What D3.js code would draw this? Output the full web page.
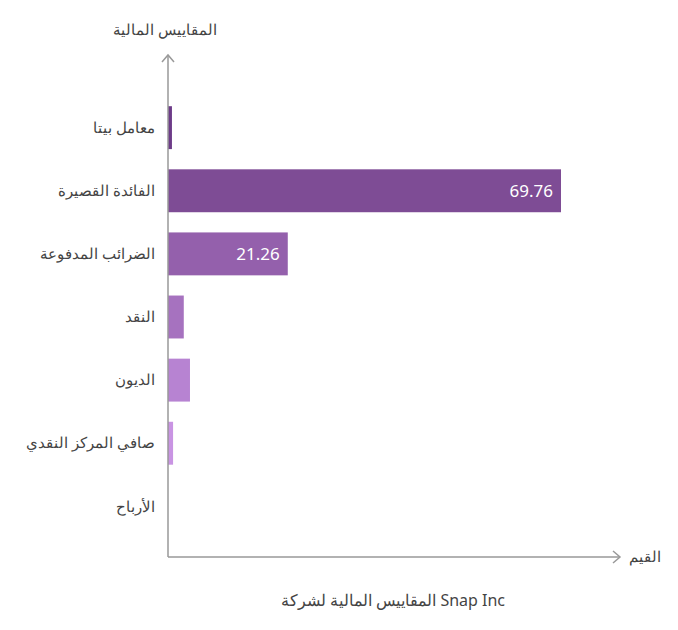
<!DOCTYPE html>
<html><head><meta charset="utf-8">
<script src="https://cdn.jsdelivr.net/npm/d3@7"></script>
<style>body{margin:0;background:#fff}text{font-family:"Noto Sans",Roboto,sans-serif}</style>
</head><body><svg id="c" width="678" height="630"></svg>
<script>
const categories=["معامل بيتا","الفائدة القصيرة","الضرائب المدفوعة","النقد","الديون","صافي المركز النقدي","الأرباح"];
const values=[0.7,69.76,21.26,2.8,3.9,0.9,0];
const colors=["#6d3b88","#7e4c95","#9460ac","#a672bf","#b783d2","#c994e3","#d9a5f0"];
const svg=d3.select("#c");
const x0=168,y0=557;
const x=d3.scaleLinear().domain([0,69.76]).range([x0,561]);
const y=d3.scaleBand().domain(categories).range([86,548]).padding(0.32);
svg.selectAll("rect").data(values).join("rect")
 .attr("x",x0).attr("y",(d,i)=>y(categories[i])).attr("height",y.bandwidth())
 .attr("width",d=>x(d)-x0).attr("fill",(d,i)=>colors[i]);
svg.selectAll(".v").data(values).join("text").filter(d=>d>10)
 .attr("x",d=>x(d)-8).attr("y",(d,i)=>y(categories[values.indexOf(d)])+y.bandwidth()/2)
 .attr("dy","0.35em").attr("text-anchor","end").attr("fill","#fff").attr("font-size",17).text(d=>d.toFixed(2));
svg.selectAll(".l").data(categories).join("text")
 .attr("x",155).attr("y",d=>y(d)+y.bandwidth()/2).attr("dy","0.35em")
 .attr("text-anchor","end").attr("fill","#444").attr("font-size",15).text(d=>d);
const g="#999";
svg.append("line").attr("x1",x0).attr("y1",y0).attr("x2",x0).attr("y2",55).attr("stroke",g).attr("stroke-width",1.5);
svg.append("line").attr("x1",x0).attr("y1",y0).attr("x2",620).attr("y2",y0).attr("stroke",g).attr("stroke-width",1.5);
svg.append("path").attr("d",`M${x0-6},62L${x0},55L${x0+6},62`).attr("fill","none").attr("stroke",g).attr("stroke-width",1.5);
svg.append("path").attr("d",`M613,${y0-6}L620,${y0}L613,${y0+6}`).attr("fill","none").attr("stroke",g).attr("stroke-width",1.5);
svg.append("text").attr("x",165).attr("y",35).attr("text-anchor","middle").attr("fill","#444").attr("font-size",15).text("المقاييس المالية");
svg.append("text").attr("x",645).attr("y",562).attr("text-anchor","middle").attr("fill","#444").attr("font-size",15).text("القيم");
svg.append("text").attr("x",393).attr("y",606).attr("text-anchor","middle").attr("fill","#444").attr("font-size",16).text("المقاييس المالية لشركة Snap Inc");
</script></body></html>
